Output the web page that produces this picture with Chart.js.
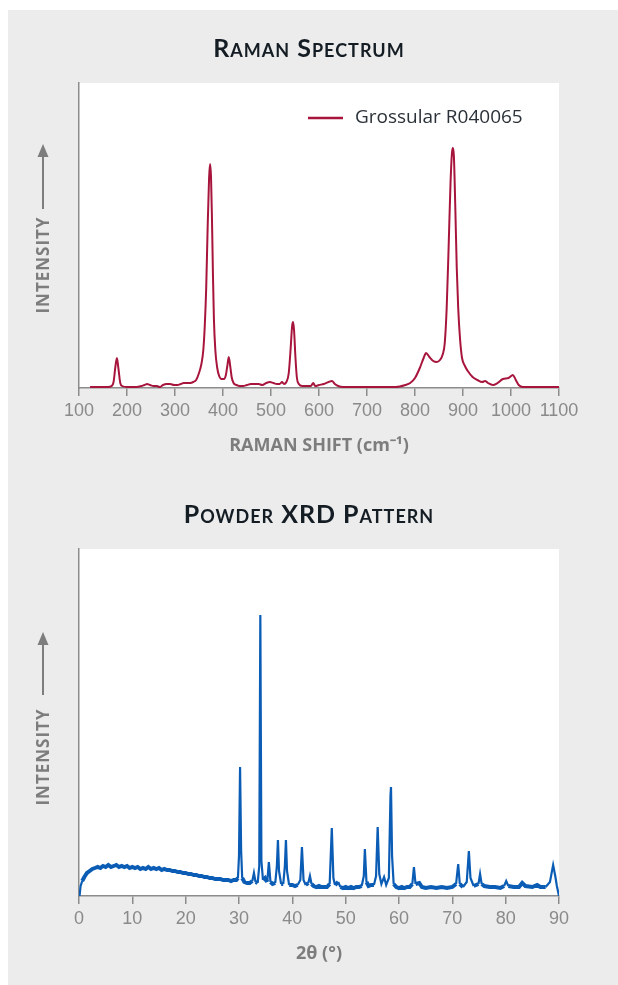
<!DOCTYPE html>
<html>
<head>
<meta charset="utf-8">
<script src="https://cdn.jsdelivr.net/npm/chart.js@4.4.0/dist/chart.umd.min.js"></script>
<style>
  body { margin: 0; width: 618px; height: 985px; position: relative; overflow: hidden; background: #fff; }
  #panel { position: absolute; left: 8px; top: 10px; width: 610px; height: 975px; background: #ececec; }
  .box { position: absolute; left: 0; width: 618px; }
  .title { position: absolute; left: 0; width: 618px; text-align: center; font-family: Lato, sans-serif; font-weight: bold;
           font-size: 25px; font-variant: small-caps; letter-spacing: 1px; color: #141c24; line-height: 30px; }
  .ylab { position: absolute; width: 140px; height: 20px; line-height: 20px; text-align: center; transform: rotate(-90deg);
          font-family: "Open Sans", sans-serif; font-weight: bold; font-size: 17px; letter-spacing: 1px; color: #7d7d7d; }
  svg.arrow { position: absolute; }
</style>
</head>
<body>
<div id="panel"></div>

<div class="box" style="top:0;height:457px"><canvas id="ramanChart" width="618" height="457"></canvas></div>
<div class="box" style="top:470px;height:495px"><canvas id="xrdChart" width="618" height="495"></canvas></div>

<div class="title" style="top:32px">Raman Spectrum</div>
<div class="title" style="top:498px">Powder XRD Pattern</div>

<div class="ylab" style="left:-27px;top:255px">INTENSITY</div>
<svg class="arrow" style="left:36px;top:143px" width="14" height="68"><line x1="7" y1="12" x2="7" y2="66" stroke="#7d7d7d" stroke-width="2"/><polygon points="7,1 1.5,14 12.5,14" fill="#7d7d7d"/></svg>

<div class="ylab" style="left:-27px;top:747px">INTENSITY</div>
<svg class="arrow" style="left:36px;top:631px" width="14" height="66"><line x1="7" y1="12" x2="7" y2="64" stroke="#7d7d7d" stroke-width="2"/><polygon points="7,1 1.5,14 12.5,14" fill="#7d7d7d"/></svg>

<script>
// Raman spectrum, Grossular R040065 (intensity in arbitrary units)
const ramanShift = [
  123,130,140,150,160,168,172,176,179,182,
  186,190,200,210,220,230,236,242,248,255,
  262,268,275,282,290,298,305,312,318,325,
  332,338,344,350,355,359,362,365,368,371,
  373,375,377,379,381,384,388,392,397,402,
  406,409,412,415,418,422,428,435,442,450,
  458,466,474,482,490,498,505,512,518,523,
  527,532,537,541,544,546,548,551,554,558,
  565,575,583,588,592,600,610,620,627,633,
  640,650,670,700,730,760,780,790,800,810,
  818,823,830,838,845,852,858,862,866,870,
  874,877,879,881,884,887,890,894,898,904,
  910,920,930,940,946,952,962,972,983,995,
  1004,1010,1016,1025,1040,1060,1080,1100
];
const ramanIntensity = [
  1,1,1,1,1,2,6,22,30,20,
  5,2,1,1,1,2,3,4,3,2,
  2,1,3,4,4,3,3,4,5,5,
  5,6,8,15,24,38,62,100,160,210,
  224,212,170,115,70,38,20,12,9,9,
  13,22,31,22,11,5,3,2,2,3,
  4,4,4,3,5,6,5,4,4,6,
  4,6,15,40,62,66,58,30,10,4,
  2,2,2,5,2,3,4,6,7,4,
  2,1,1,1,1,1,3,5,10,20,
  30,35,31,27,26,28,34,45,80,140,
  205,235,240,232,180,120,80,48,30,22,
  17,11,8,6,7,5,3,5,9,10,
  13,8,3,1,1,1,1,1
];
const ramanTicks = [100,200,300,400,500,600,700,800,900,1000,1100];

// Powder XRD pattern (2theta in degrees, intensity in arbitrary units)
const xrdAngle = [
  0.1,0.3,0.6,1.0,1.5,2.0,2.5,3.0,3.5,4.0,
  4.5,5.0,5.5,6.0,6.5,7.0,7.5,8.0,8.5,9.0,
  9.5,10.0,10.5,11.0,11.5,12.0,12.5,13.0,13.5,14.0,
  14.5,15.0,15.5,16.0,16.5,17.0,17.5,18.0,18.5,19.0,
  19.5,20.0,20.5,21.0,21.5,22.0,22.5,23.0,23.5,24.0,
  24.5,25.0,25.5,26.0,26.5,27.0,27.5,28.0,28.5,29.0,
  29.5,29.8,30.0,30.2,30.4,30.6,31.0,31.5,32.0,32.5,
  32.8,33.1,33.5,33.8,34.0,34.2,34.5,34.9,35.3,35.6,
  35.9,36.3,36.8,37.1,37.3,37.5,37.9,38.3,38.6,38.8,
  39.0,39.4,40.0,40.5,41.0,41.5,41.8,42.1,42.5,43.0,
  43.3,43.6,44.0,44.5,45.0,45.5,46.0,46.5,47.0,47.4,
  47.7,48.0,48.6,49.0,49.5,50.0,50.5,51.0,51.5,52.0,
  52.5,53.0,53.4,53.6,53.9,54.3,54.8,55.3,55.7,56.0,
  56.3,56.7,57.2,57.6,58.1,58.4,58.5,58.7,59.0,59.5,
  60.0,60.5,61.0,61.5,62.0,62.5,62.8,63.1,63.8,64.3,
  65.0,66.0,67.0,68.0,69.0,70.0,70.7,71.1,71.4,72.0,
  72.7,73.1,73.4,74.0,74.9,75.2,75.5,76.0,77.0,78.0,
  79.0,79.7,80.1,80.5,81.5,82.5,83.1,83.7,85.0,85.9,
  86.5,87.5,88.3,88.9,89.3,89.6,90.0
];
const xrdIntensity = [
  0,10,15,19,23,25,27,28,29,28,
  30,29,31,29,30,31,29,30,29,30,
  28,29,28,29,27,28,27,29,27,28,
  27,28,26,27,26,26,25,25,24,24,
  23,23,22,22,21,21,20,20,19,19,
  18,18,17,17,17,16,16,16,15,16,
  16,18,40,129,45,18,14,13,13,15,
  23,14,13,30,281,35,16,18,14,34,
  14,12,13,30,56,25,12,12,30,56,
  25,11,11,10,11,16,49,16,11,13,
  20,12,10,9,10,9,9,9,12,68,
  18,11,14,9,8,9,8,9,8,9,
  9,10,20,47,14,10,11,11,20,69,
  22,12,19,11,18,100,109,40,12,9,
  8,9,8,9,9,12,29,12,13,9,
  8,9,8,9,8,9,12,32,12,9,
  14,45,18,10,12,22,12,10,9,9,
  8,10,15,10,9,9,13,10,9,11,
  9,9,14,31,20,10,0
];
const xrdTicks = [0,10,20,30,40,50,60,70,80,90];

const axisGray = '#8c8c8c';
const labelGray = '#8a8a8a';

// white plot background + optional legend drawn inside the plot area
const plotDecor = {
  id: 'plotDecor',
  beforeDraw(chart) {
    const a = chart.chartArea;
    const ctx = chart.ctx;
    ctx.save();
    ctx.fillStyle = '#ffffff';
    ctx.fillRect(a.left, a.top, a.right - a.left, a.bottom - a.top);
    ctx.restore();
  },
  afterDraw(chart, args, opts) {
    if (!opts.legend) return;
    const ds = chart.data.datasets[0];
    const ctx = chart.ctx;
    const a = chart.chartArea;
    const y = a.top + 35;
    ctx.save();
    ctx.strokeStyle = ds.borderColor;
    ctx.lineWidth = 2.5;
    ctx.beginPath();
    ctx.moveTo(a.left + 229, y);
    ctx.lineTo(a.left + 264, y);
    ctx.stroke();
    ctx.fillStyle = '#2b3138';
    ctx.font = '19px "Open Sans"';
    ctx.textBaseline = 'middle';
    ctx.fillText(ds.label, a.left + 276, y);
    ctx.restore();
  }
};

function makeChart(id, xs, ys, cfg) {
  const points = xs.map((x, i) => ({ x: x, y: ys[i] }));
  return new Chart(document.getElementById(id), {
    type: 'line',
    data: {
      datasets: [{
        label: cfg.label,
        data: points,
        borderColor: cfg.color,
        borderWidth: cfg.lineWidth,
        pointRadius: 0,
        fill: false,
        cubicInterpolationMode: cfg.smooth ? 'monotone' : 'default',
        tension: 0,
        // noisy flat background of the XRD trace reads as a thicker band, peaks stay thin
        segment: cfg.band ? {
          borderWidth: c => Math.abs(c.p1.parsed.y - c.p0.parsed.y) <= 4 ? 4 : cfg.lineWidth
        } : undefined
      }]
    },
    options: {
      responsive: false,
      animation: false,
      layout: { padding: { left: 79, right: 59, top: cfg.top, bottom: 0 } },
      plugins: {
        legend: { display: false },
        tooltip: { enabled: false },
        plotDecor: { legend: cfg.legend }
      },
      scales: {
        x: {
          type: 'linear',
          min: cfg.ticks[0],
          max: cfg.ticks[cfg.ticks.length - 1],
          afterBuildTicks: s => { s.ticks = cfg.ticks.map(v => ({ value: v })); },
          afterFit: s => { s.height = 69; },
          ticks: {
            color: labelGray,
            padding: 4,
            maxRotation: 0,
            autoSkip: false,
            callback: v => String(v),
            font: { family: '"Liberation Sans"', size: 18 }
          },
          grid: { drawOnChartArea: false, drawTicks: true, tickLength: 8, color: axisGray, lineWidth: 1.5 },
          border: { display: true, color: axisGray, width: 1.5 },
          title: {
            display: true,
            text: cfg.xTitle,
            color: '#7d7d7d',
            padding: 0,
            font: { family: '"Open Sans"', size: 18, weight: 'bold' }
          }
        },
        y: {
          min: 0,
          max: cfg.yMax,
          afterFit: s => { s.width = 0; },
          ticks: { display: false },
          grid: { display: false },
          border: { display: true, color: axisGray, width: 1.5 }
        }
      }
    },
    plugins: [plotDecor]
  });
}

makeChart('ramanChart', ramanShift, ramanIntensity, {
  label: 'Grossular R040065',
  color: '#a8153c',
  lineWidth: 2,
  smooth: true,
  top: 83,
  yMax: 305,
  ticks: ramanTicks,
  xTitle: 'RAMAN SHIFT (cm\u207B\u00B9)',
  legend: true
});

makeChart('xrdChart', xrdAngle, xrdIntensity, {
  label: 'Powder XRD',
  color: '#0b5cb5',
  lineWidth: 2.2,
  smooth: false,
  band: true,
  top: 79,
  yMax: 347,
  ticks: xrdTicks,
  xTitle: '2\u03B8 (\u00B0)',
  legend: false
});
</script>
</body>
</html>
